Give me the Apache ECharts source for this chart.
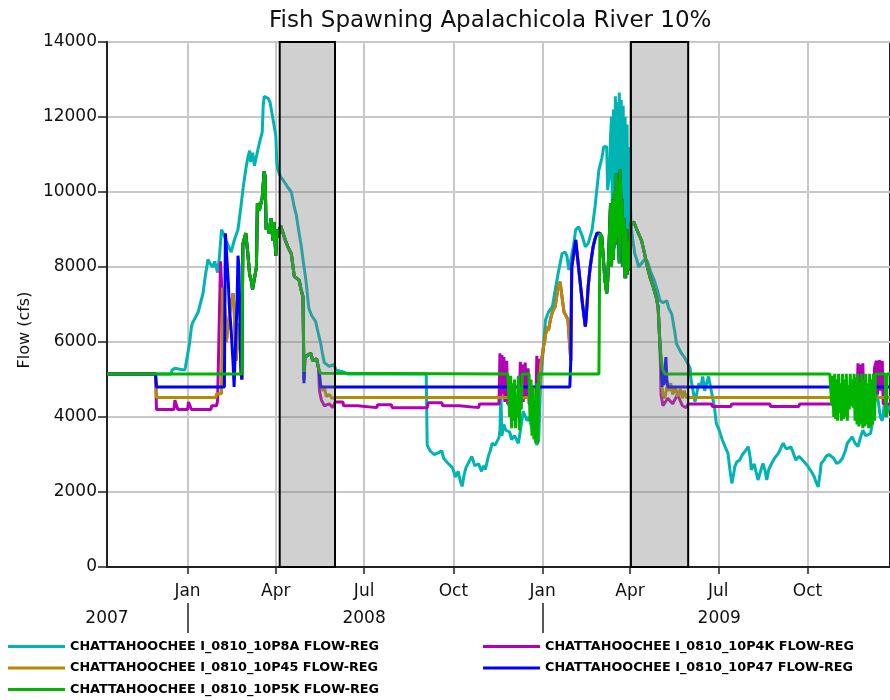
<!DOCTYPE html>
<html>
<head>
<meta charset="utf-8">
<script src="https://cdn.jsdelivr.net/npm/echarts@6/dist/echarts.min.js"></script>
<style>html,body{margin:0;padding:0;background:#fff}#chart{width:890px;height:700px}</style>
</head>
<body>
<div id="chart"></div>
<script>
// ---------- DATA (x = day offset from BASE_DATE, y = flow in cfs) ----------
const BASE_DATE = '2008-01-01';
const X_MIN_DATE = '2007-10-10', X_MAX_DATE = '2009-12-25';
const Y_MAX = 14000, Y_STEP = 2000;

const seriesNames = [
  'CHATTAHOOCHEE I_0810_10P8A FLOW-REG',
  'CHATTAHOOCHEE I_0810_10P4K FLOW-REG',
  'CHATTAHOOCHEE I_0810_10P45 FLOW-REG',
  'CHATTAHOOCHEE I_0810_10P47 FLOW-REG',
  'CHATTAHOOCHEE I_0810_10P5K FLOW-REG'
];
const seriesColors = ['#00b4b4', '#b400b4', '#b48c00', '#0000ff', '#00b400'];

const monthTickDates = ['2008-01-01','2008-04-01','2008-07-01','2008-10-01','2009-01-01','2009-04-01','2009-07-01','2009-10-01'];
const monthTickLabels = ['Jan','Apr','Jul','Oct','Jan','Apr','Jul','Oct'];
const yearLabelDates = ['2007-10-10','2008-07-01','2009-07-02'];
const yearLabels = ['2007','2008','2009'];
const yearSeparatorDates = ['2008-01-01','2009-01-01'];
const spawningBands = [['2008-04-05','2008-06-01'], ['2009-04-02','2009-05-31']];

// cyan 10P8A
const cyanWinter08 = [[-83,5150],[-17,5150],[-16,5250],[-13,5300],[-12,5250],[-3,5250],[-2,5350],[0,5400],[2,5950],[4,6400],[5,6500],[8,6650],[11,6800],[13,7000],[16,7300],[18,7700],[21,8200],[23,8100],[26,8000],[28,8150],[31,7850],[33,8300],[35,9000],[37,8950],[40,8700],[43,8500],[45,8400],[48,8700],[52,9000],[55,9600],[57,10050],[60,10600],[62,10900],[64,11100],[65,10800],[67,11050],[69,10700],[71,10950],[74,11300],[77,11600],[78,12300],[79,12550],[81,12600],[83,12500],[85,12400],[87,12100],[89,11800],[91,11500],[92,10800],[93,10600],[96,10400],[99,10300],[101,10300],[104,10100],[107,10000],[110,9600],[112,9400],[115,8900],[117,8600],[119,8200],[122,7650],[125,6900],[128,6700],[132,6550],[135,6200],[137,6000],[139,5700],[141,5450],[146,5350],[151,5400],[153,5250],[161,5200],[165,5150],[246,5150]];
const cyanFall08 = [[247,3250],[250,3100],[252,3150],[254,3000],[256,2950],[259,3050],[262,3100],[264,2900],[266,2850],[269,2750],[273,2650],[275,2500],[276,2400],[279,2550],[281,2300],[283,2150],[285,2450],[287,2650],[290,2800],[293,2950],[296,2700],[300,2750],[303,2550],[305,2700],[307,2600],[310,2950],[312,3100],[314,3300],[317,3250],[321,3450],[322,3650],[323,4550],[324,3500],[326,3800],[328,3650],[330,3700],[332,3600],[334,3400],[337,3500],[341,3300],[344,3800],[346,4150],[348,4100],[350,3900],[352,4000],[355,3700],[358,3500],[360,3250],[362,3400]];
const cyan2009 = [[364,5000],[366,5600],[368,6300],[369,6590],[372,6800],[376,6940],[379,7400],[382,7830],[386,8360],[389,8400],[391,8300],[393,7920],[395,7950],[398,8600],[400,8990],[403,9070],[407,8810],[410,8540],[413,8630],[417,9000],[420,9610],[424,10590],[427,10900],[429,11210],[432,11210],[433,10050],[435,10500],[436,11500],[437,12010],[438,9000],[439,12200],[440,8500],[441,12550],[442,9500],[443,12400],[444,8200],[445,12650],[446,9800],[447,12450],[448,8000],[449,12300],[450,9000],[451,12000],[452,7700],[453,11800],[454,8500],[455,11200],[457,9150],[459,8700],[461,8350],[463,8200],[465,8000],[468,8100],[471,8200],[474,8150],[477,7900],[481,7650],[484,7400],[487,7100],[490,7050],[494,7100],[496,6900],[499,6750],[502,6300],[504,5950],[507,5800],[509,5700],[512,5600],[514,5500],[516,5450],[518,5300],[519,4990],[521,4700],[523,4400],[525,4650],[527,4900],[529,4800],[531,5080],[533,4700],[535,4900],[537,5080],[539,4800],[541,4550],[543,4270],[545,3830],[548,3650],[551,3400],[554,3210],[557,3030],[559,2590],[561,2230],[563,2500],[564,2670],[566,2800],[569,2850],[572,3000],[575,3100],[578,3210],[580,2900],[581,2590],[584,2750],[588,2320],[590,2500],[593,2760],[595,2600],[597,2320],[599,2600],[602,2760],[605,2900],[609,3030],[612,3200],[614,3300],[617,3150],[619,3120],[622,3200],[624,3210],[627,2850],[630,2950],[632,3000],[634,2850],[636,2850],[639,2700],[641,2670],[644,2500],[646,2400],[648,2250],[650,2140],[652,2500],[653,2760],[656,2850],[658,2950],[661,3000],[663,3030],[666,2900],[669,2760],[672,2800],[675,2900],[678,3100],[680,3300],[683,3400],[685,3470],[688,3300],[691,3210],[693,3400],[696,3650],[699,3500],[701,3470],[704,3560],[706,3900],[708,4360],[710,4700],[712,4400],[714,4000],[716,3900],[718,4300],[720,4000],[722,4200],[725,4400]];

// shared stretches where the alternatives coincide (drawn on top of each other)
const rise08Gold = [[38,7000],[40,6000],[44,6900],[47,7300],[48,6900],[50,5500],[53,6500],[56,5000]];
const peak08 = [[57,8600],[60,8900],[62,8400],[64,7800],[66,7600],[67,7400],[69,7700],[71,8000],[72,9700],[74,9500],[77,9850],[79,10550],[80,10400],[81,9000],[83,9100],[84,8900],[86,9300],[88,8700],[89,9200],[91,8300],[92,9000],[93,8800],[96,9100],[98,9050],[101,8700],[104,8500],[107,8350],[110,7750],[112,7700],[115,7650],[117,7400],[119,7200]];
const post08 = [[121,5600],[124,5650],[127,5700],[129,5500],[131,5450],[133,5550],[135,5300]];
const rise09Gold = [[363,5000],[364,5400],[366,5700],[367,5900],[368,6000],[369,6200],[371,6400],[372,6300],[374,6600],[376,6800],[379,6950],[381,7300],[382,7500],[384,7600],[386,7550],[387,7000],[388,6800],[390,6700],[392,6600],[393,6550]];
const rise09Blue = [[395,5500],[396,8000],[400,8720],[403,8000],[407,7030],[410,6410],[411,6700],[413,7500],[415,8000],[418,8540],[420,8750],[422,8900],[424,8900]];
const peak09 = [[425,8900],[427,8800],[430,7700],[432,7300],[433,7600],[436,9700],[437,8000],[438,9800],[439,8200],[440,10000],[441,8600],[442,10500],[443,8800],[444,10300],[445,8100],[446,10600],[447,8900],[448,9800],[449,8000],[450,9300],[451,7700],[452,9000],[453,7800],[454,8700],[455,7900],[456,8900],[457,9160],[460,9200],[463,9000],[465,8990],[468,8700],[471,8360],[474,8000],[477,7700],[480,7470],[483,7200],[485,6940],[487,5870]];

// magenta 10P4K
const magentaWinter08 = [[-83,5150],[-33,5150],[-32,4200],[-14,4200],[-13,4450],[-11,4450],[-10,4200],[0,4200],[1,4400],[3,4400],[4,4200],[24,4200],[25,4300],[30,4300],[31,4450],[33,4450],[34,8150],[36,8100],[37,6500]];
const magentaSummer08 = [[120,5000]];
const magentaFall08 = [[136,4700],[138,4450],[141,4300],[146,4350],[150,4250],[152,4400],[160,4400],[161,4300],[175,4300],[176,4250],[195,4250],[196,4330],[210,4330],[211,4250],[247,4250],[248,4380],[262,4380],[263,4300],[280,4300],[281,4250],[300,4250],[301,4350],[321,4350],[322,5700],[323,4500],[324,5650],[325,4600],[326,5600],[327,4400],[329,5500],[330,4350],[342,4350],[343,5470],[344,4500],[345,5400],[346,4400],[348,5450],[349,4500],[351,5300],[352,4350],[359,4350],[360,5630],[361,4500],[362,5550]];
const magentaTail09 = [[488,4600],[490,4300],[495,4500],[500,4350],[505,4600],[510,4300],[514,4250],[516,4350],[540,4350],[541,4280],[560,4280],[561,4350],[600,4350],[601,4280],[630,4280],[631,4350],[690,4350],[691,5430],[692,4400],[694,5400],[695,4500],[696,5430],[697,4350],[707,4350],[708,5300],[710,5500],[711,4600],[713,5520],[714,4700],[716,5500],[717,4350],[725,4350]];

// gold 10P45
const goldWinter08 = [[-83,5150],[-33,5150],[-32,4520],[29,4520],[30,4620],[35,4620],[36,7450]];
const goldSummer08 = [[120,5000]];
const goldFall08 = [[137,4900],[139,4700],[141,4800],[143,4550],[146,4600],[149,4500],[152,4520],[362,4520]];
const goldTail09 = [[488,5000],[490,4600],[492,4500],[494,4800],[496,4700],[498,4900],[500,4600],[503,4800],[505,4550],[508,4750],[510,4500],[512,4700],[514,4520],[725,4520]];

// blue 10P47
const blueWinter08 = [[-83,5150],[-33,5150],[-32,4800],[38,4800],[39,8900],[41,8900],[42,7600],[43,7000],[45,6300],[47,5400],[48,4800],[49,5600],[51,7000],[52,8300],[53,8000],[54,6500],[55,5200],[56,5000]];
const blueSummer08 = [[120,4900]];
const blueFall08 = [[136,5150],[137,4800],[394,4800]];
const blueTail09 = [[488,5500],[489,4800],[490,5300],[491,4850],[493,5600],[494,5000],[495,4800],[725,4800]];

// green 10P5K
const greenWinter08 = [[-83,5150],[56,5150]];
const greenSummer08 = [[120,5200]];
const greenFall08 = [[137,5170],[138,5150],[330,5150]];
const greenPulses08 = [[331,5150],[332,4000],[333,5100],[334,3700],[335,4900],[336,3900],[337,5000],[338,3700],[339,4600],[340,4000],[341,5100],[342,3650],[343,4800],[344,4200],[345,5150],[352,5150],[353,3900],[354,5000],[355,3500],[356,4800],[357,3400],[358,4600],[359,3300],[360,4900],[361,3300],[362,5150],[424,5150]];
const greenSummer09 = [[489,5400],[490,5250],[492,5150],[662,5150]];
const greenPulses09 = [[663,5150],[664,4300],[665,5100],[666,4000],[667,5150],[668,3950],[669,5000],[670,3900],[671,5150],[672,4100],[673,4900],[674,3900],[675,5150],[676,3950],[677,5000],[678,4000],[679,5150],[680,3900],[681,4800],[682,4200],[683,5150],[684,4300],[685,5000],[686,4250],[687,5150],[688,3900],[689,5050],[690,3800],[691,5150],[692,3750],[693,4900],[694,3800],[695,5150],[696,3700],[697,5000],[698,3750],[699,5150],[700,3800],[701,4900],[702,3700],[703,5150],[704,3750],[705,5000],[706,3800],[707,5150],[708,3900],[709,5150],[719,5150],[720,4000],[721,5150],[725,5150]];

// ---------- BUILD ----------
const DAY_MS = 86400000;
const utc = s => { const p = s.split('-').map(Number); return Date.UTC(p[0], p[1] - 1, p[2]); };
const baseTime = utc(BASE_DATE);
const dayOf = s => Math.round((utc(s) - baseTime) / DAY_MS);

const seriesData = [
  cyanWinter08.concat(cyanFall08, cyan2009),
  magentaWinter08.concat(rise08Gold, peak08, magentaSummer08, post08, magentaFall08, rise09Gold, rise09Blue, peak09, magentaTail09),
  goldWinter08.concat(rise08Gold, peak08, goldSummer08, post08, goldFall08, rise09Gold, rise09Blue, peak09, goldTail09),
  blueWinter08.concat(peak08, blueSummer08, post08, blueFall08, rise09Blue, peak09, blueTail09),
  greenWinter08.concat(peak08, greenSummer08, post08, greenFall08, greenPulses08, peak09, greenSummer09, greenPulses09)
];

const monthTickDays = monthTickDates.map(dayOf);
const yearLabelDays = yearLabelDates.map(dayOf);
const yearSepDays = yearSeparatorDates.map(dayOf);
const nearestLabel = (days, labels, v) => {
  let best = 0;
  days.forEach((t, i) => { if (Math.abs(t - v) < Math.abs(days[best] - v)) best = i; });
  return labels[best];
};

const FONT = 'DejaVu Sans';
const xMin = dayOf(X_MIN_DATE), xMax = dayOf(X_MAX_DATE);

const lineSeries = seriesNames.map((name, i) => ({
  name: name,
  type: 'line',
  data: seriesData[i],
  showSymbol: false,
  symbol: 'none',
  lineStyle: { color: seriesColors[i], width: 3 },
  itemStyle: { color: seriesColors[i] },
  animation: false,
  z: 2
}));

// translucent grey overlay drawn above the lines, black edges
const bandSeries = {
  type: 'custom',
  name: 'spawning',
  silent: true,
  z: 10,
  animation: false,
  data: spawningBands.map(b => [dayOf(b[0]), dayOf(b[1])]),
  encode: { x: [0, 1] },
  renderItem: function (params, api) {
    const s = api.coord([api.value(0), 0]);
    const e = api.coord([api.value(1), Y_MAX]);
    const shape = { x: s[0], y: e[1], width: e[0] - s[0], height: s[1] - e[1] };
    return {
      type: 'group',
      children: [
        { type: 'rect', shape: shape, style: { fill: '#808080', opacity: 0.37, stroke: null } },
        { type: 'rect', shape: shape, style: { fill: null, stroke: '#000', lineWidth: 2 } }
      ]
    };
  }
};

const legendText = { fontFamily: FONT, fontWeight: 'bold', fontSize: 12.8, color: '#000' };
const legendCommon = { orient: 'vertical', top: 640, padding: 0, icon: 'rect', itemWidth: 57, itemHeight: 3,
  itemGap: 8.5, textStyle: legendText, selectedMode: false };

const option = {
  backgroundColor: '#fff',
  animation: false,
  title: {
    text: 'Fish Spawning Apalachicola River 10%',
    left: 264, top: 5,
    textStyle: { fontFamily: FONT, fontWeight: 'normal', fontSize: 23, color: '#111' }
  },
  grid: { left: 107, right: -3, top: 42, bottom: 133, show: true, borderColor: '#222', borderWidth: 2, backgroundColor: 'transparent' },
  legend: [
    Object.assign({ data: [seriesNames[0], seriesNames[2], seriesNames[4]], left: 8 }, legendCommon),
    Object.assign({ data: [seriesNames[1], seriesNames[3]], left: 483 }, legendCommon)
  ],
  xAxis: [
    {
      type: 'value', min: xMin, max: xMax, position: 'bottom',
      axisLine: { show: true, onZero: false, lineStyle: { color: '#222', width: 2 } },
      axisTick: { show: true, customValues: monthTickDays, length: 7, lineStyle: { color: '#222', width: 1.5 } },
      axisLabel: { customValues: monthTickDays, margin: 16, fontFamily: FONT, fontSize: 17, color: '#111',
        formatter: v => nearestLabel(monthTickDays, monthTickLabels, v) },
      splitLine: { show: true, lineStyle: { color: '#c8c8c8', width: 2 } }
    },
    {
      type: 'value', min: xMin, max: xMax, position: 'bottom', offset: 36,
      axisLine: { show: false, onZero: false },
      axisTick: { show: true, customValues: yearSepDays, length: 30, lineStyle: { color: '#222', width: 1.5 } },
      axisLabel: { customValues: yearLabelDays, margin: 7, fontFamily: FONT, fontSize: 17, color: '#111',
        formatter: v => nearestLabel(yearLabelDays, yearLabels, v) },
      splitLine: { show: false }
    }
  ],
  yAxis: {
    type: 'value', min: 0, max: Y_MAX, interval: Y_STEP,
    axisLine: { show: true, onZero: false, lineStyle: { color: '#222', width: 2 } },
    axisTick: { show: true, length: 9, lineStyle: { color: '#222', width: 1.5 } },
    axisLabel: { margin: 10, fontFamily: FONT, fontSize: 17, color: '#111', formatter: v => String(v) },
    splitLine: { show: true, lineStyle: { color: '#c8c8c8', width: 2 } }
  },
  graphic: [{
    type: 'text', x: 25, y: 330, rotation: Math.PI / 2,
    style: { text: 'Flow (cfs)', fontFamily: FONT, fontSize: 16, fill: '#111', align: 'center', verticalAlign: 'middle' }
  }],
  series: lineSeries.concat([bandSeries])
};

const chart = echarts.init(document.getElementById('chart'), null, { renderer: 'canvas' });
chart.setOption(option);
</script>
</body>
</html>
